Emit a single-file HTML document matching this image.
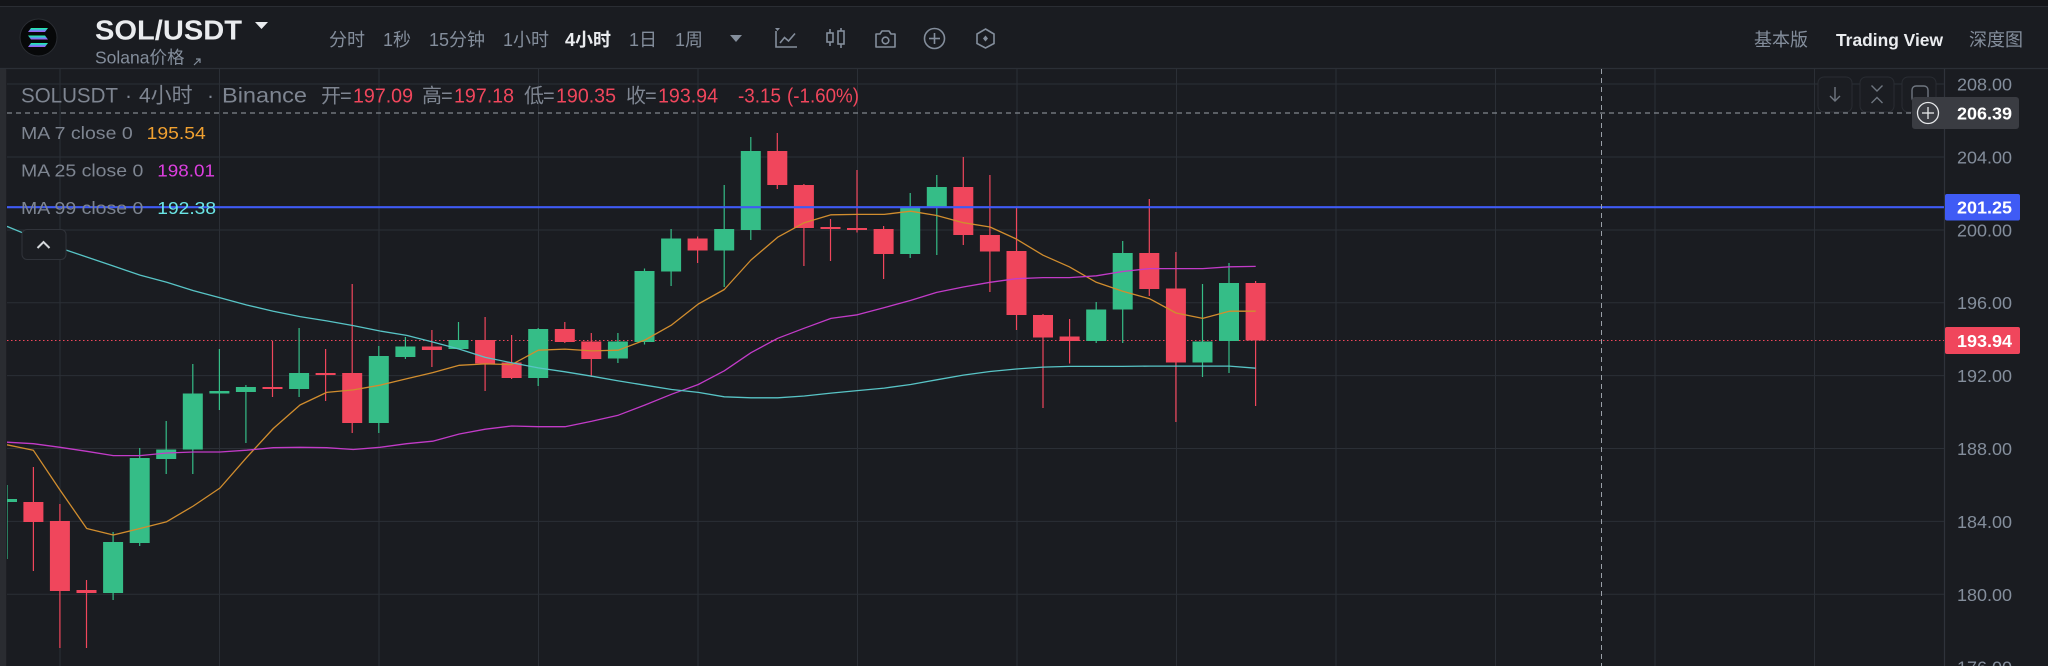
<!DOCTYPE html>
<html><head><meta charset="utf-8"><style>
html,body{margin:0;padding:0;background:#1a1c21;}
svg{display:block;}
text{font-family:"Liberation Sans","Noto Sans CJK SC",sans-serif;}
</style></head><body>
<svg width="2048" height="666" viewBox="0 0 2048 666" xmlns="http://www.w3.org/2000/svg">
<defs>
<clipPath id="ca"><rect x="7" y="69" width="1937" height="597"/></clipPath>
<linearGradient id="sol" x1="0" y1="0" x2="0" y2="1"><stop offset="0" stop-color="#19fb9b"/><stop offset="0.5" stop-color="#4fa6e6"/><stop offset="1" stop-color="#b14cf5"/></linearGradient>
</defs>
<rect width="2048" height="666" fill="#1a1c21"/>
<rect width="2048" height="6.5" fill="#141519"/>
<line x1="0" y1="6.5" x2="2048" y2="6.5" stroke="#2a2d33" stroke-width="1"/>

<!-- header -->
<circle cx="38.5" cy="37.5" r="18.5" fill="#070809" stroke="#2a2d33" stroke-width="1"/>
<g fill="url(#sol)">
<polygon points="31,28 48,28 45,32 28,32"/>
<polygon points="28,35.5 45,35.5 48,39.5 31,39.5"/>
<polygon points="31,43 48,43 45,47 28,47"/>
</g>
<text x="95" y="39.5" font-size="28" font-weight="bold" fill="#eaecef" textLength="147" lengthAdjust="spacingAndGlyphs">SOL/USDT</text>
<polygon points="255,22 268,22 261.5,29" fill="#eaecef"/>
<text x="95" y="63.5" font-size="17.5" fill="#848e9c">Solana价格</text>
<g stroke="#848e9c" stroke-width="1.2" fill="none"><line x1="194" y1="65" x2="200" y2="59"/><polyline points="196,59 200,59 200,63"/></g>

<g font-size="18" fill="#848e9c">
<text x="329" y="46">分时</text>
<text x="383" y="46">1秒</text>
<text x="429" y="46">15分钟</text>
<text x="503" y="46">1小时</text>
<text x="565" y="46" fill="#eaecef" font-weight="bold">4小时</text>
<text x="629" y="46">1日</text>
<text x="675" y="46">1周</text>
<text x="1754" y="46">基本版</text>
<text x="1836" y="46" fill="#eaecef" font-weight="bold" font-size="17.5" textLength="107" lengthAdjust="spacingAndGlyphs">Trading View</text>
<text x="1969" y="46">深度图</text>
</g>
<polygon points="730,35 742,35 736,42" fill="#848e9c"/>
<g stroke="#848e9c" stroke-width="1.6" fill="none">
<polyline points="776,31 776,47 797,47"/>
<polyline points="780,43 784.5,37.5 788.5,41 795,33.5"/>
<line x1="830" y1="29" x2="830" y2="46"/><rect x="827" y="33" width="6" height="9" fill="#1a1c21"/>
<line x1="841" y1="28" x2="841" y2="48"/><rect x="838" y="31" width="6" height="13" fill="#1a1c21"/>
<path d="M876 34 h4 l2 -3 h7 l2 3 h4 v13 h-19 z" stroke-linejoin="round"/>
<circle cx="885.5" cy="40.5" r="3.3"/>
<circle cx="934.5" cy="38.5" r="10"/>
<line x1="934.5" y1="33" x2="934.5" y2="44"/><line x1="929" y1="38.5" x2="940" y2="38.5"/>
<polygon points="985.5,29 994,34 994,43.5 985.5,48 977,43.5 977,34"/>
</g>
<polygon points="775,28 780,28 777.5,31" fill="#848e9c"/>
<polygon points="985.5,35.5 988,38.5 985.5,41.5 983,38.5" fill="#848e9c"/>

<line x1="0" y1="68.5" x2="2048" y2="68.5" stroke="#2b2f36" stroke-width="1.2"/>
<!-- left strip -->
<rect x="0" y="69" width="6" height="597" fill="#2a2c31"/>
<line x1="6.5" y1="69" x2="6.5" y2="666" stroke="#1e1f24"/>

<!-- grid -->
<g stroke="#2b2f36" stroke-width="1">
<line x1="60" y1="69" x2="60" y2="666"/><line x1="219.5" y1="69" x2="219.5" y2="666"/><line x1="379" y1="69" x2="379" y2="666"/><line x1="538.5" y1="69" x2="538.5" y2="666"/><line x1="698" y1="69" x2="698" y2="666"/><line x1="857.5" y1="69" x2="857.5" y2="666"/><line x1="1017" y1="69" x2="1017" y2="666"/><line x1="1176.5" y1="69" x2="1176.5" y2="666"/><line x1="1336" y1="69" x2="1336" y2="666"/><line x1="1495.5" y1="69" x2="1495.5" y2="666"/><line x1="1655" y1="69" x2="1655" y2="666"/><line x1="1814.5" y1="69" x2="1814.5" y2="666"/>
<line x1="7" y1="84" x2="1944" y2="84"/><line x1="7" y1="157" x2="1944" y2="157"/><line x1="7" y1="230" x2="1944" y2="230"/><line x1="7" y1="302.7" x2="1944" y2="302.7"/><line x1="7" y1="375.6" x2="1944" y2="375.6"/><line x1="7" y1="448.5" x2="1944" y2="448.5"/><line x1="7" y1="521.4" x2="1944" y2="521.4"/><line x1="7" y1="594.3" x2="1944" y2="594.3"/>
</g>
<line x1="1944.5" y1="69" x2="1944.5" y2="666" stroke="#2f333b" stroke-width="1.2"/>

<!-- last price dotted -->
<line x1="7" y1="340.5" x2="1944" y2="340.5" stroke="#f0465c" stroke-width="1" stroke-dasharray="1.5,2.5"/>

<g clip-path="url(#ca)">
<!-- green candles -->
<g stroke="#35bd87" stroke-width="1.2">
<line x1="7" y1="485" x2="7" y2="559"/><line x1="113.1" y1="532" x2="113.1" y2="600"/><line x1="139.7" y1="448" x2="139.7" y2="546"/><line x1="166.2" y1="421" x2="166.2" y2="474"/><line x1="192.8" y1="364" x2="192.8" y2="474"/><line x1="219.4" y1="349" x2="219.4" y2="410"/><line x1="245.9" y1="385" x2="245.9" y2="443"/><line x1="299.1" y1="328" x2="299.1" y2="397"/><line x1="378.8" y1="346" x2="378.8" y2="433"/><line x1="405.4" y1="337" x2="405.4" y2="359"/><line x1="458.5" y1="322" x2="458.5" y2="349"/><line x1="538.2" y1="328" x2="538.2" y2="386"/><line x1="617.9" y1="333" x2="617.9" y2="363"/><line x1="644.5" y1="268.5" x2="644.5" y2="344.5"/><line x1="671.1" y1="229" x2="671.1" y2="286"/><line x1="724.2" y1="185" x2="724.2" y2="287"/><line x1="750.8" y1="137" x2="750.8" y2="240"/><line x1="910.2" y1="193" x2="910.2" y2="258"/><line x1="936.8" y1="175" x2="936.8" y2="255"/><line x1="1096.2" y1="302" x2="1096.2" y2="343"/><line x1="1122.7" y1="241" x2="1122.7" y2="343"/><line x1="1202.5" y1="284" x2="1202.5" y2="377"/><line x1="1229" y1="263" x2="1229" y2="373"/>
</g>
<g fill="#35bd87">
<rect x="-3" y="499" width="20" height="3"/><rect x="103.1" y="542" width="20" height="51"/><rect x="129.7" y="458" width="20" height="85"/><rect x="156.2" y="449.5" width="20" height="9.5"/><rect x="182.8" y="393.5" width="20" height="56"/><rect x="209.4" y="391" width="20" height="2.5"/><rect x="235.9" y="387" width="20" height="5"/><rect x="289.1" y="373" width="20" height="16"/><rect x="368.8" y="356" width="20" height="67"/><rect x="395.4" y="346.5" width="20" height="10.5"/><rect x="448.5" y="340" width="20" height="9"/><rect x="528.2" y="329" width="20" height="49"/><rect x="607.9" y="341.5" width="20" height="17"/><rect x="634.5" y="271" width="20" height="71"/><rect x="661.1" y="238.5" width="20" height="33"/><rect x="714.2" y="229" width="20" height="21.5"/><rect x="740.8" y="151" width="20" height="79"/><rect x="900.2" y="207" width="20" height="47"/><rect x="926.8" y="187" width="20" height="20.5"/><rect x="1086.2" y="309.5" width="20" height="31.5"/><rect x="1112.7" y="253" width="20" height="56.5"/><rect x="1192.5" y="341.5" width="20" height="21"/><rect x="1219" y="283" width="20" height="58"/>
</g>
<!-- red candles -->
<g stroke="#f0465c" stroke-width="1.2">
<line x1="33.4" y1="467" x2="33.4" y2="571"/><line x1="59.9" y1="504" x2="59.9" y2="648"/><line x1="86.5" y1="580" x2="86.5" y2="648"/><line x1="272.5" y1="341" x2="272.5" y2="397"/><line x1="325.6" y1="349" x2="325.6" y2="401"/><line x1="352.2" y1="284" x2="352.2" y2="433"/><line x1="431.9" y1="330" x2="431.9" y2="367"/><line x1="485.1" y1="317" x2="485.1" y2="391"/><line x1="511.6" y1="335" x2="511.6" y2="379"/><line x1="564.8" y1="322" x2="564.8" y2="343"/><line x1="591.3" y1="333" x2="591.3" y2="377"/><line x1="697.6" y1="236.5" x2="697.6" y2="263"/><line x1="777.3" y1="133" x2="777.3" y2="189"/><line x1="803.9" y1="184" x2="803.9" y2="266"/><line x1="830.5" y1="219" x2="830.5" y2="261"/><line x1="857" y1="170" x2="857" y2="232.5"/><line x1="883.6" y1="226" x2="883.6" y2="279"/><line x1="963.3" y1="157" x2="963.3" y2="245"/><line x1="989.9" y1="175" x2="989.9" y2="292"/><line x1="1016.5" y1="207" x2="1016.5" y2="330"/><line x1="1043" y1="314" x2="1043" y2="408"/><line x1="1069.6" y1="319" x2="1069.6" y2="363.5"/><line x1="1149.3" y1="199" x2="1149.3" y2="296"/><line x1="1175.9" y1="252" x2="1175.9" y2="422"/><line x1="1255.6" y1="281" x2="1255.6" y2="406"/>
</g>
<g fill="#f0465c">
<rect x="23.4" y="502" width="20" height="20"/><rect x="49.9" y="521" width="20" height="70"/><rect x="76.5" y="590" width="20" height="3"/><rect x="262.5" y="387" width="20" height="2"/><rect x="315.6" y="373" width="20" height="2"/><rect x="342.2" y="373" width="20" height="50"/><rect x="421.9" y="346.5" width="20" height="3.5"/><rect x="475.1" y="340" width="20" height="23.5"/><rect x="501.6" y="362.5" width="20" height="15.5"/><rect x="554.8" y="329" width="20" height="13"/><rect x="581.3" y="341.5" width="20" height="17.5"/><rect x="687.6" y="238.5" width="20" height="12"/><rect x="767.3" y="151" width="20" height="34"/><rect x="793.9" y="185" width="20" height="43"/><rect x="820.5" y="227" width="20" height="2"/><rect x="847" y="228" width="20" height="2"/><rect x="873.6" y="229" width="20" height="25"/><rect x="953.3" y="187" width="20" height="48"/><rect x="979.9" y="235" width="20" height="16.5"/><rect x="1006.5" y="251" width="20" height="64"/><rect x="1033" y="315" width="20" height="22.5"/><rect x="1059.6" y="336.5" width="20" height="4.5"/><rect x="1139.3" y="253" width="20" height="36"/><rect x="1165.9" y="288.5" width="20" height="74"/><rect x="1245.6" y="283" width="20" height="57.5"/>
</g>

<!-- MA lines -->
<g fill="none" stroke-width="1.3" stroke-linejoin="round">
<polyline stroke="#d18d2e" points="7,444.8 33.3,450.2 60,490 86.7,528.5 113.3,535 140,528.5 166.7,521.7 193.3,506 220,488 246.7,457.4 273.3,428.5 300,405 326.7,392.4 353.3,389.9 380,385.2 406.7,378.7 432.7,372.6 459.3,365.3 485.3,363.9 511.7,364.6 538.3,350.2 565,349.1 591.7,350.9 618.3,350.2 645,340 671.7,324.9 698.3,304 724.3,289.5 751,260 777.7,237.2 804.3,222.7 831,214.8 857.3,214.4 884.3,214.4 910.7,211.2 936.7,215.5 963.3,222.7 990,227 1016.3,239 1043,255.2 1069.3,266.8 1096.3,282.3 1122.7,291.3 1149.3,298.6 1176,313 1202.7,318.4 1229.3,311.2 1255.7,311.2"/>
<polyline stroke="#c23bc8" points="7,442.2 33.3,443.7 60,447.3 86.7,451.3 113.3,455.6 140,455.6 166.7,453 193.3,452 220,452 246.7,450.2 273.3,447.7 300,447.3 326.7,447.7 353.3,449.5 380,447.3 406.7,443.7 432.7,441.2 459.3,434 485.3,429.2 511.7,426 538.3,426.7 565,426.7 591.7,421.3 618.3,415.2 645,405 671.7,394.2 698.3,384.5 724.3,370.8 751,352.7 777.7,338.3 804.3,328.2 831,318.4 857.3,314.8 884.3,307.6 910.7,300.4 936.7,292.4 963.3,287 990,282.3 1016.3,278.7 1043,277.6 1069.3,277.6 1096.3,275.8 1122.7,271.5 1149.3,268.6 1176,268.6 1202.7,268.6 1229.3,266.8 1255.7,266.4"/>
<polyline stroke="#58c4c6" points="7,226.4 33.3,237.2 60,248 86.7,257 113.3,266 140,275.1 166.7,282.3 193.3,290.6 220,297.8 246.7,305 273.3,311.2 300,316.6 326.7,320.9 353.3,325.6 380,331 406.7,335.4 432.7,342 459.3,349.1 485.3,357.4 511.7,362.8 538.3,367.9 565,371.8 591.7,376.2 618.3,380.9 645,385.2 671.7,389.5 698.3,392.4 724.3,396.8 751,397.8 777.7,397.8 804.3,396 831,393.1 857.3,390.6 884.3,388.1 910.7,384.5 936.7,379.8 963.3,375.1 990,371.5 1016.3,369 1043,367.1 1069.3,366.4 1096.3,366.4 1122.7,366.4 1149.3,366.1 1176,366.1 1202.7,366.1 1229.3,366.1 1255.7,368.2"/>
</g>
</g>

<!-- blue horizontal line -->
<line x1="7" y1="207.2" x2="1944" y2="207.2" stroke="#3f5bf5" stroke-width="2.2"/>

<!-- crosshair -->
<g stroke="#9aa0a8" stroke-width="1" stroke-dasharray="5,4">
<line x1="7" y1="113" x2="1912" y2="113"/>
<line x1="1601.5" y1="69" x2="1601.5" y2="666"/>
</g>

<!-- legend -->
<g fill="#7e8591">
<text x="21" y="102.5" font-size="21" textLength="97" lengthAdjust="spacingAndGlyphs">SOLUSDT</text>
<text x="125" y="102.5" font-size="21">·</text>
<text x="139" y="102.5" font-size="21">4小时</text>
<text x="207" y="102.5" font-size="21">·</text>
<text x="222" y="102.5" font-size="21" textLength="85" lengthAdjust="spacingAndGlyphs">Binance</text>
</g>
<g font-size="20">
<text x="321" y="102.5" fill="#7e8591">开</text><text x="340" y="102.5" fill="#7e8591">=</text><text x="353" y="102.5" fill="#f0465c" textLength="60" lengthAdjust="spacingAndGlyphs">197.09</text>
<text x="422" y="102.5" fill="#7e8591">高</text><text x="441" y="102.5" fill="#7e8591">=</text><text x="454" y="102.5" fill="#f0465c" textLength="60" lengthAdjust="spacingAndGlyphs">197.18</text>
<text x="524" y="102.5" fill="#7e8591">低</text><text x="543" y="102.5" fill="#7e8591">=</text><text x="556" y="102.5" fill="#f0465c" textLength="60" lengthAdjust="spacingAndGlyphs">190.35</text>
<text x="626" y="102.5" fill="#7e8591">收</text><text x="645" y="102.5" fill="#7e8591">=</text><text x="658" y="102.5" fill="#f0465c" textLength="60" lengthAdjust="spacingAndGlyphs">193.94</text>
<text x="738" y="102.5" fill="#f0465c" textLength="43" lengthAdjust="spacingAndGlyphs">-3.15</text>
<text x="787" y="102.5" fill="#f0465c" textLength="72" lengthAdjust="spacingAndGlyphs">(-1.60%)</text>
</g>
<g font-size="17.5">
<text x="21" y="139" fill="#7e8591" textLength="111.7" lengthAdjust="spacingAndGlyphs">MA 7 close 0</text>
<text x="146.7" y="139" fill="#f0a030" textLength="59" lengthAdjust="spacingAndGlyphs">195.54</text>
<text x="21" y="176.5" fill="#7e8591" textLength="122.3" lengthAdjust="spacingAndGlyphs">MA 25 close 0</text>
<text x="157.3" y="176.5" fill="#dd3fe0" textLength="57.7" lengthAdjust="spacingAndGlyphs">198.01</text>
<text x="21" y="214" fill="#7e8591" textLength="122.3" lengthAdjust="spacingAndGlyphs">MA 99 close 0</text>
<text x="157.3" y="214" fill="#6be6e6" textLength="58.7" lengthAdjust="spacingAndGlyphs">192.38</text>
</g>
<rect x="22" y="229.5" width="44" height="30" rx="5" fill="#1b1d22" stroke="#30333a" stroke-width="1"/>
<polyline points="37.5,248 43.5,242 49.5,248" fill="none" stroke="#d5d8dc" stroke-width="2"/>

<!-- top-right chart buttons -->
<g fill="#1b1d22" stroke="#292c32" stroke-width="1">
<rect x="1818" y="77" width="34" height="35" rx="6"/>
<rect x="1860" y="77" width="34" height="35" rx="6"/>
<rect x="1902" y="77" width="34" height="35" rx="6"/>
</g>
<g fill="none" stroke="#6f7680" stroke-width="1.4">
<line x1="1835" y1="87" x2="1835" y2="101"/><polyline points="1830,96 1835,101 1840,96"/>
<polyline points="1871.5,85.5 1877,91 1882.5,85.5"/><polyline points="1871.5,103 1877,97.5 1882.5,103"/>
<rect x="1912" y="86" width="16" height="16" rx="4"/>
</g>

<!-- price axis -->
<g font-size="17.5" fill="#848e9c">
<text x="1957" y="90.5" textLength="55" lengthAdjust="spacingAndGlyphs">208.00</text>
<text x="1957" y="163.5" textLength="55" lengthAdjust="spacingAndGlyphs">204.00</text>
<text x="1957" y="236.5" textLength="55" lengthAdjust="spacingAndGlyphs">200.00</text>
<text x="1957" y="309" textLength="55" lengthAdjust="spacingAndGlyphs">196.00</text>
<text x="1957" y="382" textLength="55" lengthAdjust="spacingAndGlyphs">192.00</text>
<text x="1957" y="455" textLength="55" lengthAdjust="spacingAndGlyphs">188.00</text>
<text x="1957" y="528" textLength="55" lengthAdjust="spacingAndGlyphs">184.00</text>
<text x="1957" y="601" textLength="55" lengthAdjust="spacingAndGlyphs">180.00</text>
<text x="1957" y="673.5" textLength="55" lengthAdjust="spacingAndGlyphs">176.00</text>
</g>
<rect x="1912" y="97" width="107" height="32" rx="3" fill="#3a3c42"/>
<circle cx="1928" cy="113" r="10.5" fill="none" stroke="#e6e8ea" stroke-width="1.3"/>
<line x1="1928" y1="107" x2="1928" y2="119" stroke="#e6e8ea" stroke-width="1.3"/>
<line x1="1922" y1="113" x2="1934" y2="113" stroke="#e6e8ea" stroke-width="1.3"/>
<text x="1957" y="119.5" font-size="17.5" font-weight="bold" fill="#ffffff" textLength="55" lengthAdjust="spacingAndGlyphs">206.39</text>
<rect x="1945" y="194" width="75" height="26.5" rx="2" fill="#3f5bf5"/>
<text x="1957" y="213.5" font-size="17.5" font-weight="bold" fill="#ffffff" textLength="55" lengthAdjust="spacingAndGlyphs">201.25</text>
<rect x="1945" y="327" width="75" height="27" rx="2" fill="#f0465c"/>
<text x="1957" y="346.8" font-size="17.5" font-weight="bold" fill="#ffffff" textLength="55" lengthAdjust="spacingAndGlyphs">193.94</text>
</svg>
</body></html>
